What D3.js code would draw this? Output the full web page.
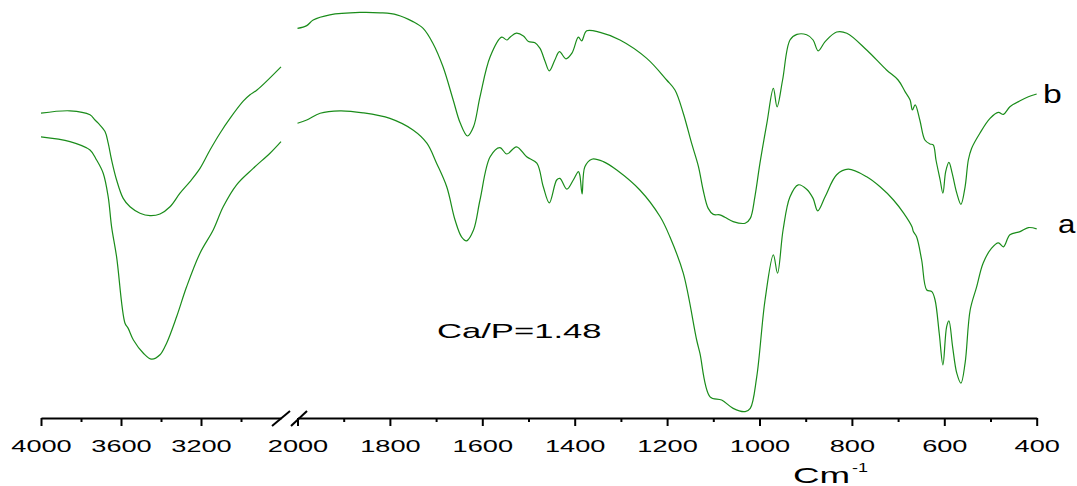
<!DOCTYPE html>
<html>
<meta charset="utf-8">
<title>FTIR Ca/P=1.48</title>
<script src="https://d3js.org/d3.v7.min.js" charset="utf-8"></script>
<style>
	body { margin: 0; background: #fff; }
	svg text { font-family: "Liberation Sans", Arial, sans-serif; fill: #000; }
	.spectrum { fill: none; stroke: #1a8c1a; stroke-width: 1.2; }
	.axis path, .axis line { stroke: #000; stroke-width: 2; }
</style>
<body>
<script>

	// spectra: [wavenumber (cm-1), transmittance (a.u.)]
	var bLeft = [[4000,76.2],[3855,76.8],[3755,75.8],[3730,74.5],[3714,73.7],[3680,71.6],[3664,68.7],
		[3647,64.5],[3622,59.5],[3589,54.9],[3555,52.8],[3505,51.2],[3455,50.6],[3405,51.0],[3355,52.8],
		[3305,56.2],[3255,59.1],[3205,62.4],[3155,67.0],[3105,71.2],[3055,74.9],[2989,79.2],[2955,80.8],
		[2920,82.0],[2800,87.8]];
	var aLeft = [[4000,70.3],[3855,69.1],[3755,67.0],[3722,64.5],[3689,61.2],[3664,55.3],[3647,47.8],[3622,40.3],
		[3580,23.7],[3564,22.4],[3538,19.5],[3488,16.2],[3447,14.7],[3405,15.8],[3372,18.7],
		[3322,25.3],[3272,32.8],[3205,41.2],[3139,47.0],[3089,52.8],[3022,58.3],[2939,62.4],[2855,66.2],[2800,69.1]];
	var bRight = [[2000,97.4],[1980,98.1],[1966,99.5],[1930,100.8],[1865,101.4],[1821,101.3],[1785,100.8],
		[1750,99.1],[1728,97.4],[1707,93.7],[1685,87.8],[1663,79.5],[1648,73.8],[1632,70.5],[1619,72.8],
		[1605,80.3],[1583,90.3],[1558,95.2],[1547,94.5],[1540,95.2],[1526,96.2],[1511,95.5],[1500,94.1],
		[1486,93.8],[1475,92.4],[1464,89.1],[1455,86.8],[1443,89.5],[1433,91.6],[1419,89.8],[1406,91.2],
		[1392,95.2],[1385,94.3],[1374,96.8],[1345,96.4],[1302,94.5],[1244,89.9],[1201,84.5],[1183,82.0],
		[1165,76.2],[1147,68.7],[1132,62.8],[1122,57.0],[1111,52.4],[1100,50.9],[1086,50.8],[1075,50.2],
		[1057,49.1],[1031,48.7],[1020,49.9],[1010,55.3],[999,63.7],[984,73.7],[970,82.4],[962,77.8],
		[950,84.5],[934,94.5],[919,95.9],[898,95.8],
		[884,94.5],[873,91.8],[858,94.1],[833,96.5],[811,96.2],[768,92.0],[725,87.0],[700,84.5],
		[685,81.6],[674,79.5],[669,77.0],[663,78.3],[653,74.5],[642,69.5],[631,68.5],[624,68.3],
		[618,64.5],[609,59.5],[603,56.2],[597,61.6],[590,63.9],[583,61.2],[573,56.2],[564,53.4],
		[555,57.8],[548,64.5],[541,67.4],[523,71.2],[501,74.9],[483,76.4],[472,75.9],[458,77.8],
		[436,79.3],[418,80.3],[400,81.0]];
	var aRight = [[2000,73.7],[1980,74.5],[1951,76.2],[1908,76.8],[1858,76.3],[1800,74.9],[1750,72.0],
		[1720,68.7],[1699,63.7],[1677,57.8],[1659,49.5],[1645,45.3],[1634,44.3],[1619,47.0],[1605,54.5],
		[1583,65.3],[1562,67.6],[1547,66.0],[1526,67.8],[1504,65.3],[1482,63.7],[1468,57.8],[1455,53.8],
		[1439,59.5],[1432,59.9],[1417,57.2],[1403,59.5],[1392,61.6],[1389,60.8],[1384,56.0],[1378,62.8],
		[1363,64.7],[1338,64.1],[1309,62.0],[1259,57.0],[1215,50.3],[1194,45.3],[1165,36.2],[1136,19.5],
		[1129,16.2],[1107,5.3],[1082,4.5],[1057,2.4],[1031,1.6],[1020,2.4],[1006,10.3],[988,29.5],
		[970,40.8],[961,36.2],[949,47.0],[934,55.3],[916,58.3],[898,57.2],[884,54.9],[874,51.8],
		[858,55.3],[833,60.8],[808,62.2],[768,60.3],[739,57.8],[710,54.5],[688,51.2],[670,47.8],
		[667,46.6],[660,45.3],[649,39.5],[638,32.0],[627,31.6],[620,29.5],[611,21.2],[603,13.3],
		[595,22.8],[590,24.3],[582,17.8],[573,11.2],[564,8.7],[555,13.7],[544,27.0],[530,32.8],
		[516,38.7],[498,42.4],[483,43.8],[472,42.8],[458,45.8],[436,46.6],[418,47.6],[400,47.3]];

	var leftMajor = [4000, 3600, 3200], leftMinor = [3800, 3400, 3000];
	var rightMajor = [2000, 1800, 1600, 1400, 1200, 1000, 800, 600, 400];
	var rightMinor = [1900, 1700, 1500, 1300, 1100, 900, 700, 500];

	var width = 1077, height = 486, axisY = 418;

	var xl = d3.scaleLinear().domain([4000, 2800]).range([41, 281]),
		xr = d3.scaleLinear().domain([2000, 400]).range([297.5, 1036.7]),
		y = d3.scaleLinear().domain([0, 100]).range([418, 18]);

	var svg = d3.select("body").append("svg")
		.attr("width", width)
		.attr("height", height);

	function lineFor(xs) {
		return d3.line()
			.x(function(d) { return xs(d[0]); })
			.y(function(d) { return y(d[1]); })
			.curve(d3.curveCatmullRom.alpha(0.5));
	}

	[[bLeft, xl], [aLeft, xl], [bRight, xr], [aRight, xr]].forEach(function(p) {
		svg.append("path").attr("class", "spectrum").attr("d", lineFor(p[1])(p[0]));
	});

	/* axes: major ticks with labels, minor ticks without */
	function drawAxis(scale, major, minor) {
		var g = svg.append("g").attr("class", "axis")
			.attr("transform", "translate(0," + axisY + ")")
			.call(d3.axisBottom(scale).tickValues(major).tickFormat(d3.format("d"))
				.tickSize(8).tickSizeOuter(0).tickPadding(15));
		g.selectAll("text")
			.style("font-size", "16px")
			.attr("transform", "scale(1.7,1)");
		svg.append("g").attr("class", "axis")
			.attr("transform", "translate(0," + axisY + ")")
			.call(d3.axisBottom(scale).tickValues(minor).tickSize(4).tickSizeOuter(0).tickFormat(""))
			.select(".domain").remove();
	}
	drawAxis(xl, leftMajor, leftMinor);
	drawAxis(xr, rightMajor, rightMinor);

	// axis break marks
	[[272, 290], [291, 307]].forEach(function(s) {
		svg.append("line")
			.attr("x1", s[0]).attr("y1", axisY + 8)
			.attr("x2", s[1]).attr("y2", axisY - 7)
			.attr("stroke", "#000").attr("stroke-width", 2);
	});

	function label(txt, x0, y0, size, sx) {
		svg.append("text")
			.attr("transform", "translate(" + x0 + "," + y0 + ") scale(" + sx + ",1)")
			.style("font-size", size + "px")
			.text(txt);
	}

	label("Cm", 793, 483, 22, 1.67);
	label("-1", 852, 472, 12, 1.5);
	label("Ca/P=1.48", 437, 338, 21, 1.65);
	label("b", 1043, 103, 26, 1.3);
	label("a", 1058, 233, 26, 1.2);

</script>
</body>
</html>
